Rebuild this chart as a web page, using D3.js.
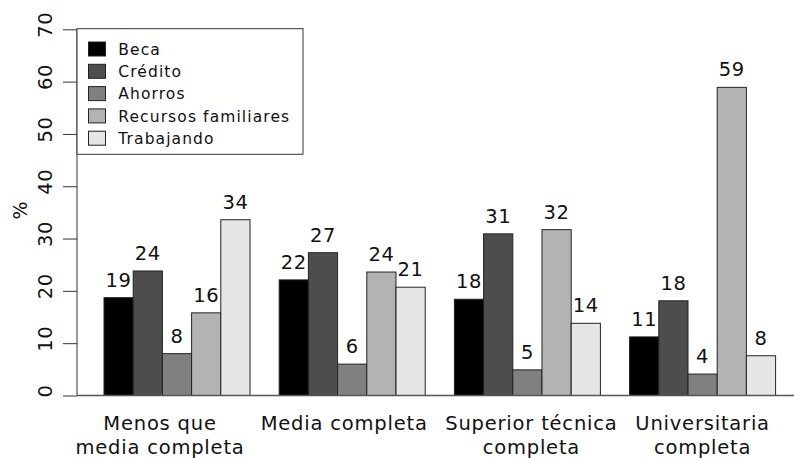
<!DOCTYPE html>
<html>
<head>
<meta charset="utf-8">
<script src="https://cdn.jsdelivr.net/npm/d3@7"></script>
<style>
  html, body { margin: 0; padding: 0; background: #fff; }
  svg { display: block; }
  text { font-family: "DejaVu Sans", sans-serif; fill: #111; }
</style>
</head>
<body>
<svg id="chart" width="794" height="458"></svg>
<script>
// ---- data ----
const categories = [
  ["Menos que", "media completa"],
  ["Media completa"],
  ["Superior técnica", "completa"],
  ["Universitaria", "completa"]
];
const seriesNames = ["Beca", "Crédito", "Ahorros", "Recursos familiares", "Trabajando"];
const beca        = [18.7, 22.1, 18.4, 11.2];
const credito     = [23.8, 27.3, 30.9, 18.1];
const ahorros     = [8.0, 6.0, 4.9, 4.1];
const recursos    = [15.8, 23.6, 31.7, 58.9];
const trabajando  = [33.6, 20.7, 13.8, 7.6];
const valueLabels = [
  [19, 24, 8, 16, 34],
  [22, 27, 6, 24, 21],
  [18, 31, 5, 32, 14],
  [11, 18, 4, 59, 8]
];
const yTicks = [0, 10, 20, 30, 40, 50, 60, 70];

// ---- style ----
const colors = ["#000000", "#4d4d4d", "#808080", "#b3b3b3", "#e6e6e6"];
const labelShift = [-17, -8, 4, 0];

const series = [beca, credito, ahorros, recursos, trabajando];
const catKeys = categories.map(c => c.join(" "));

const svg = d3.select("#chart");
const plotLeft = 77, plotTop = 29.3, plotBottom = 395.5;

const y = d3.scaleLinear().domain([0, 70]).range([plotBottom, plotTop]);
const x0 = d3.scaleBand().domain(catKeys).range([89.4, 790.2])
  .paddingInner(1 / 6).paddingOuter(1 / 12);
const x1 = d3.scaleBand().domain(seriesNames).range([0, x0.bandwidth()]);

// bars
const groups = svg.append("g").selectAll("g").data(catKeys).join("g")
  .attr("transform", d => `translate(${x0(d)},0)`);

groups.each(function(cat, gi) {
  const g = d3.select(this);
  const rows = seriesNames.map((s, si) => ({ s, si, v: series[si][gi], lab: valueLabels[gi][si] }));
  g.selectAll("rect").data(rows).join("rect")
    .attr("x", d => x1(d.s))
    .attr("y", d => y(d.v))
    .attr("width", x1.bandwidth())
    .attr("height", d => y(0) - y(d.v))
    .attr("fill", d => colors[d.si])
    .attr("stroke", "#222")
    .attr("stroke-width", 1);
  g.selectAll("text.val").data(rows).join("text")
    .attr("class", "val")
    .attr("x", d => x1(d.s) + x1.bandwidth() / 2)
    .attr("y", d => y(d.v) - 11)
    .attr("text-anchor", "middle")
    .style("font-size", "19.5px")
    .style("letter-spacing", "0.6px")
    .text(d => d.lab);
});

// baseline
svg.append("line")
  .attr("x1", plotLeft).attr("x2", 794)
  .attr("y1", y(0)).attr("y2", y(0))
  .attr("stroke", "#555").attr("stroke-width", 1.6);

// y axis
const yAxis = d3.axisLeft(y).tickValues(yTicks).tickSize(14).tickFormat(d => d);
const ya = svg.append("g").attr("transform", `translate(${plotLeft},0)`).call(yAxis);
ya.select(".domain").attr("stroke", "#333").attr("stroke-width", 1)
  .attr("d", `M0,${plotTop}V${plotBottom}`);
ya.selectAll(".tick line").attr("stroke", "#333");
ya.selectAll(".tick text")
  .attr("x", 0).attr("y", 0).attr("dy", null)
  .attr("transform", "translate(-25,-5) rotate(-90)")
  .attr("text-anchor", "middle")
  .style("font-family", "DejaVu Sans, sans-serif")
  .style("font-size", "19.5px")
  .style("letter-spacing", "0.6px")
  .attr("fill", "#111");

// y label
svg.append("text")
  .attr("transform", `translate(27,${(plotTop + plotBottom) / 2 - 2}) rotate(-90)`)
  .attr("text-anchor", "middle")
  .style("font-size", "19px")
  .text("%");

// category labels
catKeys.forEach((k, i) => {
  const cx = x0(k) + x0.bandwidth() / 2 + labelShift[i];
  categories[i].forEach((line, li) => {
    svg.append("text")
      .attr("x", cx)
      .attr("y", 430 + li * 23.5)
      .attr("text-anchor", "middle")
      .style("font-size", "19.5px")
      .style("letter-spacing", "0.8px")
      .text(line);
  });
});

// legend
const lg = svg.append("g");
lg.append("rect")
  .attr("x", plotLeft).attr("y", 28.7)
  .attr("width", 226).attr("height", 125.6)
  .attr("fill", "#fff").attr("stroke", "#333").attr("stroke-width", 1);
seriesNames.forEach((s, i) => {
  const cy = 49 + i * 22.3;
  lg.append("rect")
    .attr("x", 88.5).attr("y", cy - 7)
    .attr("width", 17).attr("height", 14)
    .attr("fill", colors[i]).attr("stroke", "#222").attr("stroke-width", 1);
  lg.append("text")
    .attr("x", 118.3).attr("y", cy + 5.7)
    .style("font-size", "15.5px")
    .style("letter-spacing", "1.1px")
    .text(s);
});
</script>
</body>
</html>
